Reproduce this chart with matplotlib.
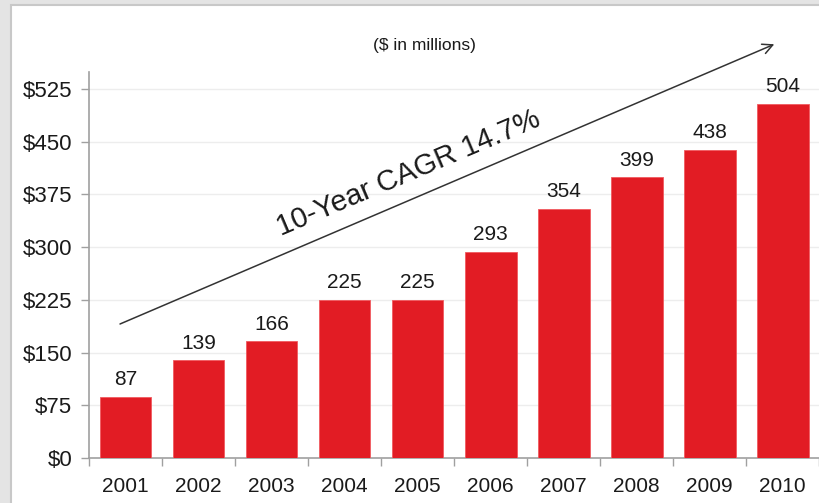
import matplotlib

matplotlib.use("Agg")
import matplotlib.pyplot as plt
from matplotlib.patches import Rectangle

plt.rcParams["font.family"] = ["Liberation Sans", "DejaVu Sans"]

years = ["2001", "2002", "2003", "2004", "2005", "2006", "2007", "2008", "2009", "2010"]
revenue = [87, 139, 166, 225, 225, 293, 354, 399, 438, 504]
y_ticks = [0, 75, 150, 225, 300, 375, 450, 525]
y_tick_labels = [f"${v}" for v in y_ticks]

BAR_RED = "#e21c24"
AXIS_GREY = "#a0a0a0"
TEXT = "#1a1a1a"

fig = plt.figure(figsize=(8.2, 5.03), dpi=100)
fig.patch.set_facecolor("#e4e4e4")

# white slide panel behind the chart
fig.add_artist(Rectangle((0.014, -0.02), 1.0, 1.01, transform=fig.transFigure,
                         facecolor="white", edgecolor="#c8c8c8", linewidth=1.5, zorder=0))

ax = fig.add_axes([0.1085, 0.0895, 0.8905, 0.7674])
ax.set_facecolor("none")

x = list(range(len(years)))
ax.bar(x, revenue, width=0.71, color=BAR_RED, edgecolor="#f05a5f",
       linewidth=0.6, zorder=3)
for xi, v in zip(x, revenue):
    ax.text(xi, v + 11, f"{v}", ha="center", va="bottom", fontsize=15, color=TEXT)

ax.set_xlim(-0.5, len(years) - 0.5)
ax.set_ylim(0, 549)
ax.set_yticks(y_ticks)
ax.set_yticklabels(y_tick_labels, fontsize=16, color=TEXT)
ax.yaxis.grid(True, color="#ededed", linewidth=1, zorder=0)
ax.tick_params(axis="y", length=6, width=1, color=AXIS_GREY, pad=6)

# category labels centred, tick marks on the category boundaries
ax.set_xticks(x)
ax.set_xticklabels(years, fontsize=15, color=TEXT)
ax.tick_params(axis="x", which="major", length=0, pad=14)
ax.set_xticks([i - 0.5 for i in range(len(years) + 1)], minor=True)
ax.tick_params(axis="x", which="minor", length=6, width=1, color=AXIS_GREY)

for side in ("top", "right"):
    ax.spines[side].set_visible(False)
for side in ("left", "bottom"):
    ax.spines[side].set_color(AXIS_GREY)
    ax.spines[side].set_linewidth(1.2)

# growth arrow with CAGR label
ax.annotate("", xy=(8.92, 590), xytext=(-0.11, 189),
            arrowprops=dict(arrowstyle="->", color="#333333", lw=1.1,
                            mutation_scale=18),
            annotation_clip=False, zorder=4)
ax.text(3.88, 405, "10-Year CAGR 14.7%", rotation=23, rotation_mode="anchor",
        ha="center", va="center", fontsize=21, color=TEXT)

fig.text(0.518, 0.9105, "($ in millions)", ha="center", va="center",
         fontsize=12.5, color=TEXT)

fig.savefig("out.png", dpi=100, facecolor=fig.get_facecolor())
